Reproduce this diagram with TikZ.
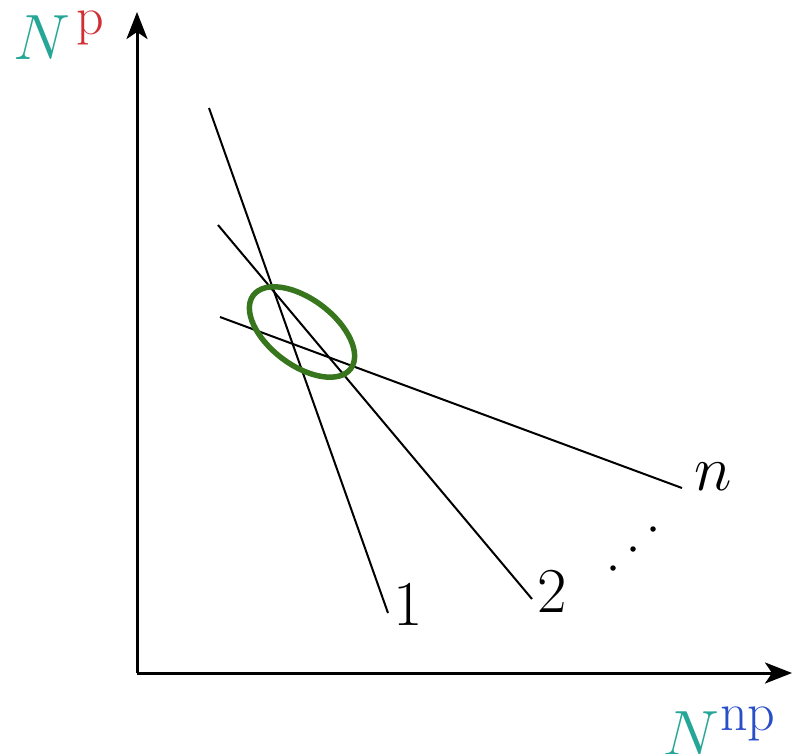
\RequirePackage{fix-cm}
\documentclass[tikz,border=0pt]{standalone}
\usetikzlibrary{arrows.meta}
\definecolor{tealN}{RGB}{38,166,150}
\definecolor{redP}{RGB}{208,48,52}
\definecolor{blueNP}{RGB}{40,78,200}
\definecolor{ellgreen}{RGB}{56,118,30}
\tikzset{
  axis/.style={line width=3pt,-{Stealth[length=27pt,width=21pt,inset=7pt]}},
  ln/.style={line width=2pt,black},
  lab/.style={inner sep=0pt,anchor=base,font=\fontsize{64}{70}\selectfont},
  dotn/.style={circle,fill=black,inner sep=0pt,minimum size=5.5pt}
}
\newcommand{\suplab}[1]{\raisebox{25pt}{\fontsize{54}{60}\selectfont #1}}
\begin{document}
\begin{tikzpicture}[x=1pt,y=-1pt]
\useasboundingbox (0,0) rectangle (792,753);
\coordinate (O) at (137,673);
\coordinate (Ytop) at (137,12);
\coordinate (Xend) at (792,673);
\draw[axis] (O) -- (Ytop);
\draw[axis] (O) -- (Xend);
\coordinate (a1) at (209,108);
\coordinate (b1) at (388,613);
\coordinate (a2) at (218,225);
\coordinate (b2) at (532,599);
\coordinate (an) at (220,317);
\coordinate (bn) at (682,488);
\draw[ln] (a1) -- (b1);
\draw[ln] (a2) -- (b2);
\draw[ln] (an) -- (bn);
\node[lab] (l1) at (408,625) {$1$};
\node[lab] (l2) at (552,612) {$2$};
\node[lab] (ln) at (713,490) {$n$};
\node[dotn] (d1) at (613,568) {};
\node[dotn] (d2) at (633,549) {};
\node[dotn] (d3) at (653,529) {};
\draw[ellgreen,line width=5.5pt,rotate around={-37:(302,332)}] (302,332) ellipse [x radius=61,y radius=33];
\node[lab,anchor=base west] (yl) at (13,59) {\textcolor{tealN}{$N$}\kern6pt\suplab{\textcolor{redP}{p}}};
\node[lab,anchor=base west] (xl) at (662,755) {\textcolor{tealN}{$N$}\kern1pt\suplab{\textcolor{blueNP}{np}}};
\end{tikzpicture}
\end{document}
